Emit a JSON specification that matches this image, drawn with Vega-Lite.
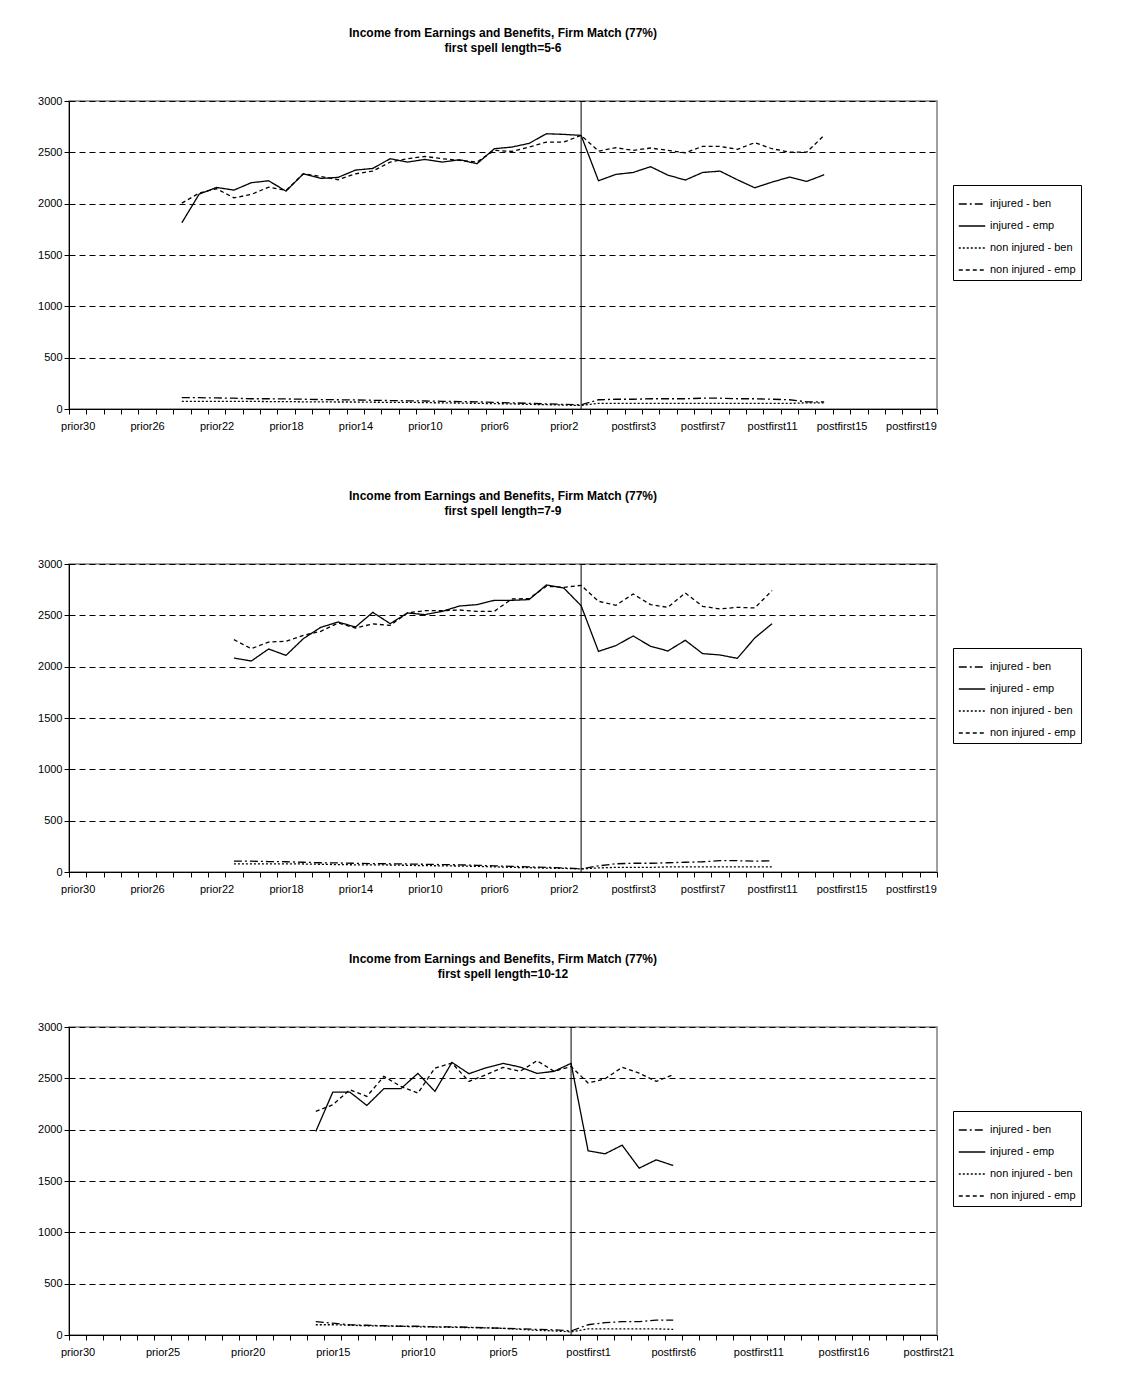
{
"$schema":"https://vega.github.io/schema/vega-lite/v6.json",
"padding":{"left":36,"top":26,"right":5,"bottom":5},
"background":"white",
"spacing":57,
"config":{"font":"Liberation Sans","view":{"stroke":"#808080","strokeWidth":1.5},
 "title":{"fontSize":12,"fontWeight":"bold","anchor":"middle","offset":40,"lineHeight":15,"color":"black"},
 "axis":{"labelFontSize":11,"labelColor":"black","domainColor":"black","tickColor":"black","title":null},
 "legend":{"orient":"none","legendX":884,"legendY":84,"strokeColor":"black","fillColor":"white","padding":5,"symbolType":"stroke","symbolStrokeColor":"black","symbolSize":700,"symbolStrokeWidth":1.3,"labelFontSize":11,"labelColor":"black","title":null,"rowPadding":3}},
"resolve":{"scale":{"x":"independent","strokeDash":"independent"},"legend":{"strokeDash":"independent"}},
"vconcat":[
{"width":868,"height":308,
 "title":{"text":["Income from Earnings and Benefits, Firm Match (77%)","first spell length=5-6"]},
 "layer":[
 {"data":{"values":[
{"p":"prior24","injured - ben":110,"injured - emp":1814,"non injured - ben":75,"non injured - emp":2005},
{"p":"prior23","injured - ben":110,"injured - emp":2093,"non injured - ben":75,"non injured - emp":2103},
{"p":"prior22","injured - ben":108,"injured - emp":2158,"non injured - ben":75,"non injured - emp":2145},
{"p":"prior21","injured - ben":105,"injured - emp":2132,"non injured - ben":75,"non injured - emp":2057},
{"p":"prior20","injured - ben":100,"injured - emp":2204,"non injured - ben":75,"non injured - emp":2090},
{"p":"prior19","injured - ben":100,"injured - emp":2223,"non injured - ben":72,"non injured - emp":2161},
{"p":"prior18","injured - ben":98,"injured - emp":2122,"non injured - ben":72,"non injured - emp":2129},
{"p":"prior17","injured - ben":95,"injured - emp":2291,"non injured - ben":70,"non injured - emp":2291},
{"p":"prior16","injured - ben":92,"injured - emp":2246,"non injured - ben":70,"non injured - emp":2265},
{"p":"prior15","injured - ben":90,"injured - emp":2256,"non injured - ben":68,"non injured - emp":2233},
{"p":"prior14","injured - ben":88,"injured - emp":2327,"non injured - ben":68,"non injured - emp":2291},
{"p":"prior13","injured - ben":85,"injured - emp":2343,"non injured - ben":66,"non injured - emp":2317},
{"p":"prior12","injured - ben":82,"injured - emp":2438,"non injured - ben":65,"non injured - emp":2405},
{"p":"prior11","injured - ben":80,"injured - emp":2405,"non injured - ben":65,"non injured - emp":2438},
{"p":"prior10","injured - ben":78,"injured - emp":2431,"non injured - ben":62,"non injured - emp":2460},
{"p":"prior9","injured - ben":75,"injured - emp":2405,"non injured - ben":60,"non injured - emp":2438},
{"p":"prior8","injured - ben":72,"injured - emp":2428,"non injured - ben":58,"non injured - emp":2421},
{"p":"prior7","injured - ben":70,"injured - emp":2389,"non injured - ben":55,"non injured - emp":2405},
{"p":"prior6","injured - ben":65,"injured - emp":2535,"non injured - ben":52,"non injured - emp":2519},
{"p":"prior5","injured - ben":60,"injured - emp":2551,"non injured - ben":50,"non injured - emp":2509},
{"p":"prior4","injured - ben":55,"injured - emp":2587,"non injured - ben":45,"non injured - emp":2551},
{"p":"prior3","injured - ben":50,"injured - emp":2681,"non injured - ben":42,"non injured - emp":2600},
{"p":"prior2","injured - ben":45,"injured - emp":2675,"non injured - ben":38,"non injured - emp":2600},
{"p":"prior1","injured - ben":40,"injured - emp":2665,"non injured - ben":35,"non injured - emp":2665},
{"p":"postfirst1","injured - ben":90,"injured - emp":2223,"non injured - ben":55,"non injured - emp":2512},
{"p":"postfirst2","injured - ben":95,"injured - emp":2285,"non injured - ben":55,"non injured - emp":2545},
{"p":"postfirst3","injured - ben":95,"injured - emp":2304,"non injured - ben":55,"non injured - emp":2519},
{"p":"postfirst4","injured - ben":100,"injured - emp":2360,"non injured - ben":55,"non injured - emp":2542},
{"p":"postfirst5","injured - ben":100,"injured - emp":2278,"non injured - ben":55,"non injured - emp":2519},
{"p":"postfirst6","injured - ben":100,"injured - emp":2230,"non injured - ben":55,"non injured - emp":2496},
{"p":"postfirst7","injured - ben":105,"injured - emp":2304,"non injured - ben":55,"non injured - emp":2558},
{"p":"postfirst8","injured - ben":105,"injured - emp":2317,"non injured - ben":55,"non injured - emp":2558},
{"p":"postfirst9","injured - ben":100,"injured - emp":2233,"non injured - ben":55,"non injured - emp":2529},
{"p":"postfirst10","injured - ben":100,"injured - emp":2155,"non injured - ben":55,"non injured - emp":2594},
{"p":"postfirst11","injured - ben":95,"injured - emp":2210,"non injured - ben":55,"non injured - emp":2535},
{"p":"postfirst12","injured - ben":90,"injured - emp":2259,"non injured - ben":55,"non injured - emp":2503},
{"p":"postfirst13","injured - ben":70,"injured - emp":2217,"non injured - ben":60,"non injured - emp":2503},
{"p":"postfirst14","injured - ben":70,"injured - emp":2282,"non injured - ben":60,"non injured - emp":2665}
 ]},
 "transform":[{"fold":["injured - ben","injured - emp","non injured - ben","non injured - emp"],"as":["s","v"]}],
 "mark":{"type":"line","color":"black","strokeWidth":1.3},
 "encoding":{
  "x":{"field":"p","type":"ordinal","scale":{"domain":["prior30","prior29","prior28","prior27","prior26","prior25","prior24","prior23","prior22","prior21","prior20","prior19","prior18","prior17","prior16","prior15","prior14","prior13","prior12","prior11","prior10","prior9","prior8","prior7","prior6","prior5","prior4","prior3","prior2","prior1","postfirst1","postfirst2","postfirst3","postfirst4","postfirst5","postfirst6","postfirst7","postfirst8","postfirst9","postfirst10","postfirst11","postfirst12","postfirst13","postfirst14","postfirst15","postfirst16","postfirst17","postfirst18","postfirst19","postfirst20"]},
   "axis":{"labelAngle":0,"tickBand":"extent","labelOverlap":false,"labelPadding":6,"labelExpr":"indexof(['prior30','prior26','prior22','prior18','prior14','prior10','prior6','prior2','postfirst3','postfirst7','postfirst11','postfirst15','postfirst19'], datum.value) >= 0 ? datum.value : ''"}},
  "y":{"field":"v","type":"quantitative","scale":{"domain":[0,3000]},"axis":{"values":[0,500,1000,1500,2000,2500,3000],"format":"d","grid":true,"gridDash":[6,4],"gridColor":"black","domain":true}},
  "strokeDash":{"field":"s","type":"nominal","scale":{"domain":["injured - ben","injured - emp","non injured - ben","non injured - emp"],"range":[[8,3,2,3],[1,0],[2,2],[4,3]]}}
 }},
 {"data":{"values":[{"p":"prior1"}]},"mark":{"type":"rule","color":"black","strokeWidth":1},"encoding":{"x":{"field":"p","type":"ordinal"}}}
 ]},
{"width":868,"height":308,
 "title":{"text":["Income from Earnings and Benefits, Firm Match (77%)","first spell length=7-9"]},
 "layer":[
 {"data":{"values":[
{"p":"prior21","injured - ben":105,"injured - emp":2084,"non injured - ben":80,"non injured - emp":2263},
{"p":"prior20","injured - ben":105,"injured - emp":2055,"non injured - ben":80,"non injured - emp":2175},
{"p":"prior19","injured - ben":102,"injured - emp":2172,"non injured - ben":80,"non injured - emp":2240},
{"p":"prior18","injured - ben":100,"injured - emp":2110,"non injured - ben":80,"non injured - emp":2247},
{"p":"prior17","injured - ben":95,"injured - emp":2273,"non injured - ben":78,"non injured - emp":2305},
{"p":"prior16","injured - ben":90,"injured - emp":2383,"non injured - ben":75,"non injured - emp":2344},
{"p":"prior15","injured - ben":88,"injured - emp":2435,"non injured - ben":72,"non injured - emp":2426},
{"p":"prior14","injured - ben":85,"injured - emp":2386,"non injured - ben":70,"non injured - emp":2377},
{"p":"prior13","injured - ben":82,"injured - emp":2529,"non injured - ben":70,"non injured - emp":2416},
{"p":"prior12","injured - ben":80,"injured - emp":2419,"non injured - ben":68,"non injured - emp":2403},
{"p":"prior11","injured - ben":78,"injured - emp":2523,"non injured - ben":65,"non injured - emp":2523},
{"p":"prior10","injured - ben":75,"injured - emp":2507,"non injured - ben":62,"non injured - emp":2546},
{"p":"prior9","injured - ben":72,"injured - emp":2539,"non injured - ben":60,"non injured - emp":2546},
{"p":"prior8","injured - ben":70,"injured - emp":2591,"non injured - ben":58,"non injured - emp":2552},
{"p":"prior7","injured - ben":65,"injured - emp":2604,"non injured - ben":55,"non injured - emp":2539},
{"p":"prior6","injured - ben":60,"injured - emp":2646,"non injured - ben":50,"non injured - emp":2539},
{"p":"prior5","injured - ben":55,"injured - emp":2646,"non injured - ben":45,"non injured - emp":2659},
{"p":"prior4","injured - ben":50,"injured - emp":2653,"non injured - ben":42,"non injured - emp":2663},
{"p":"prior3","injured - ben":45,"injured - emp":2796,"non injured - ben":38,"non injured - emp":2783},
{"p":"prior2","injured - ben":40,"injured - emp":2766,"non injured - ben":35,"non injured - emp":2773},
{"p":"prior1","injured - ben":30,"injured - emp":2594,"non injured - ben":30,"non injured - emp":2792},
{"p":"postfirst1","injured - ben":60,"injured - emp":2149,"non injured - ben":40,"non injured - emp":2637},
{"p":"postfirst2","injured - ben":80,"injured - emp":2205,"non injured - ben":45,"non injured - emp":2598},
{"p":"postfirst3","injured - ben":85,"injured - emp":2299,"non injured - ben":45,"non injured - emp":2708},
{"p":"postfirst4","injured - ben":85,"injured - emp":2198,"non injured - ben":45,"non injured - emp":2604},
{"p":"postfirst5","injured - ben":90,"injured - emp":2153,"non injured - ben":50,"non injured - emp":2578},
{"p":"postfirst6","injured - ben":95,"injured - emp":2257,"non injured - ben":50,"non injured - emp":2718},
{"p":"postfirst7","injured - ben":100,"injured - emp":2127,"non injured - ben":50,"non injured - emp":2588},
{"p":"postfirst8","injured - ben":110,"injured - emp":2114,"non injured - ben":50,"non injured - emp":2562},
{"p":"postfirst9","injured - ben":110,"injured - emp":2081,"non injured - ben":50,"non injured - emp":2578},
{"p":"postfirst10","injured - ben":105,"injured - emp":2279,"non injured - ben":50,"non injured - emp":2572},
{"p":"postfirst11","injured - ben":110,"injured - emp":2419,"non injured - ben":50,"non injured - emp":2741}
 ]},
 "transform":[{"fold":["injured - ben","injured - emp","non injured - ben","non injured - emp"],"as":["s","v"]}],
 "mark":{"type":"line","color":"black","strokeWidth":1.3},
 "encoding":{
  "x":{"field":"p","type":"ordinal","scale":{"domain":["prior30","prior29","prior28","prior27","prior26","prior25","prior24","prior23","prior22","prior21","prior20","prior19","prior18","prior17","prior16","prior15","prior14","prior13","prior12","prior11","prior10","prior9","prior8","prior7","prior6","prior5","prior4","prior3","prior2","prior1","postfirst1","postfirst2","postfirst3","postfirst4","postfirst5","postfirst6","postfirst7","postfirst8","postfirst9","postfirst10","postfirst11","postfirst12","postfirst13","postfirst14","postfirst15","postfirst16","postfirst17","postfirst18","postfirst19","postfirst20"]},
   "axis":{"labelAngle":0,"tickBand":"extent","labelOverlap":false,"labelPadding":6,"labelExpr":"indexof(['prior30','prior26','prior22','prior18','prior14','prior10','prior6','prior2','postfirst3','postfirst7','postfirst11','postfirst15','postfirst19'], datum.value) >= 0 ? datum.value : ''"}},
  "y":{"field":"v","type":"quantitative","scale":{"domain":[0,3000]},"axis":{"values":[0,500,1000,1500,2000,2500,3000],"format":"d","grid":true,"gridDash":[6,4],"gridColor":"black","domain":true}},
  "strokeDash":{"field":"s","type":"nominal","scale":{"domain":["injured - ben","injured - emp","non injured - ben","non injured - emp"],"range":[[8,3,2,3],[1,0],[2,2],[4,3]]}}
 }},
 {"data":{"values":[{"p":"prior1"}]},"mark":{"type":"rule","color":"black","strokeWidth":1},"encoding":{"x":{"field":"p","type":"ordinal"}}}
 ]},
{"width":868,"height":308,
 "title":{"text":["Income from Earnings and Benefits, Firm Match (77%)","first spell length=10-12"]},
 "layer":[
 {"data":{"values":[
{"p":"prior16","injured - ben":130,"injured - emp":1983,"non injured - ben":100,"non injured - emp":2178},
{"p":"prior15","injured - ben":115,"injured - emp":2366,"non injured - ben":100,"non injured - emp":2243},
{"p":"prior14","injured - ben":100,"injured - emp":2366,"non injured - ben":95,"non injured - emp":2389},
{"p":"prior13","injured - ben":95,"injured - emp":2236,"non injured - ben":90,"non injured - emp":2324},
{"p":"prior12","injured - ben":90,"injured - emp":2399,"non injured - ben":88,"non injured - emp":2519},
{"p":"prior11","injured - ben":85,"injured - emp":2399,"non injured - ben":85,"non injured - emp":2421},
{"p":"prior10","injured - ben":85,"injured - emp":2548,"non injured - ben":80,"non injured - emp":2356},
{"p":"prior9","injured - ben":80,"injured - emp":2373,"non injured - ben":78,"non injured - emp":2600},
{"p":"prior8","injured - ben":80,"injured - emp":2655,"non injured - ben":75,"non injured - emp":2649},
{"p":"prior7","injured - ben":75,"injured - emp":2545,"non injured - ben":72,"non injured - emp":2470},
{"p":"prior6","injured - ben":70,"injured - emp":2603,"non injured - ben":70,"non injured - emp":2535},
{"p":"prior5","injured - ben":65,"injured - emp":2646,"non injured - ben":65,"non injured - emp":2607},
{"p":"prior4","injured - ben":60,"injured - emp":2610,"non injured - ben":55,"non injured - emp":2568},
{"p":"prior3","injured - ben":55,"injured - emp":2548,"non injured - ben":45,"non injured - emp":2672},
{"p":"prior2","injured - ben":50,"injured - emp":2568,"non injured - ben":40,"non injured - emp":2568},
{"p":"prior1","injured - ben":40,"injured - emp":2646,"non injured - ben":30,"non injured - emp":2616},
{"p":"postfirst1","injured - ben":100,"injured - emp":1794,"non injured - ben":60,"non injured - emp":2454},
{"p":"postfirst2","injured - ben":120,"injured - emp":1765,"non injured - ben":60,"non injured - emp":2496},
{"p":"postfirst3","injured - ben":130,"injured - emp":1849,"non injured - ben":60,"non injured - emp":2607},
{"p":"postfirst4","injured - ben":130,"injured - emp":1625,"non injured - ben":60,"non injured - emp":2551},
{"p":"postfirst5","injured - ben":145,"injured - emp":1706,"non injured - ben":60,"non injured - emp":2470},
{"p":"postfirst6","injured - ben":145,"injured - emp":1651,"non injured - ben":55,"non injured - emp":2535}
 ]},
 "transform":[{"fold":["injured - ben","injured - emp","non injured - ben","non injured - emp"],"as":["s","v"]}],
 "mark":{"type":"line","color":"black","strokeWidth":1.3},
 "encoding":{
  "x":{"field":"p","type":"ordinal","scale":{"domain":["prior30","prior29","prior28","prior27","prior26","prior25","prior24","prior23","prior22","prior21","prior20","prior19","prior18","prior17","prior16","prior15","prior14","prior13","prior12","prior11","prior10","prior9","prior8","prior7","prior6","prior5","prior4","prior3","prior2","prior1","postfirst1","postfirst2","postfirst3","postfirst4","postfirst5","postfirst6","postfirst7","postfirst8","postfirst9","postfirst10","postfirst11","postfirst12","postfirst13","postfirst14","postfirst15","postfirst16","postfirst17","postfirst18","postfirst19","postfirst20","postfirst21"]},
   "axis":{"labelAngle":0,"tickBand":"extent","labelOverlap":false,"labelPadding":6,"labelExpr":"indexof(['prior30','prior25','prior20','prior15','prior10','prior5','postfirst1','postfirst6','postfirst11','postfirst16','postfirst21'], datum.value) >= 0 ? datum.value : ''"}},
  "y":{"field":"v","type":"quantitative","scale":{"domain":[0,3000]},"axis":{"values":[0,500,1000,1500,2000,2500,3000],"format":"d","grid":true,"gridDash":[6,4],"gridColor":"black","domain":true}},
  "strokeDash":{"field":"s","type":"nominal","scale":{"domain":["injured - ben","injured - emp","non injured - ben","non injured - emp"],"range":[[8,3,2,3],[1,0],[2,2],[4,3]]}}
 }},
 {"data":{"values":[{"p":"prior1"}]},"mark":{"type":"rule","color":"black","strokeWidth":1},"encoding":{"x":{"field":"p","type":"ordinal"}}}
 ]}
]}
